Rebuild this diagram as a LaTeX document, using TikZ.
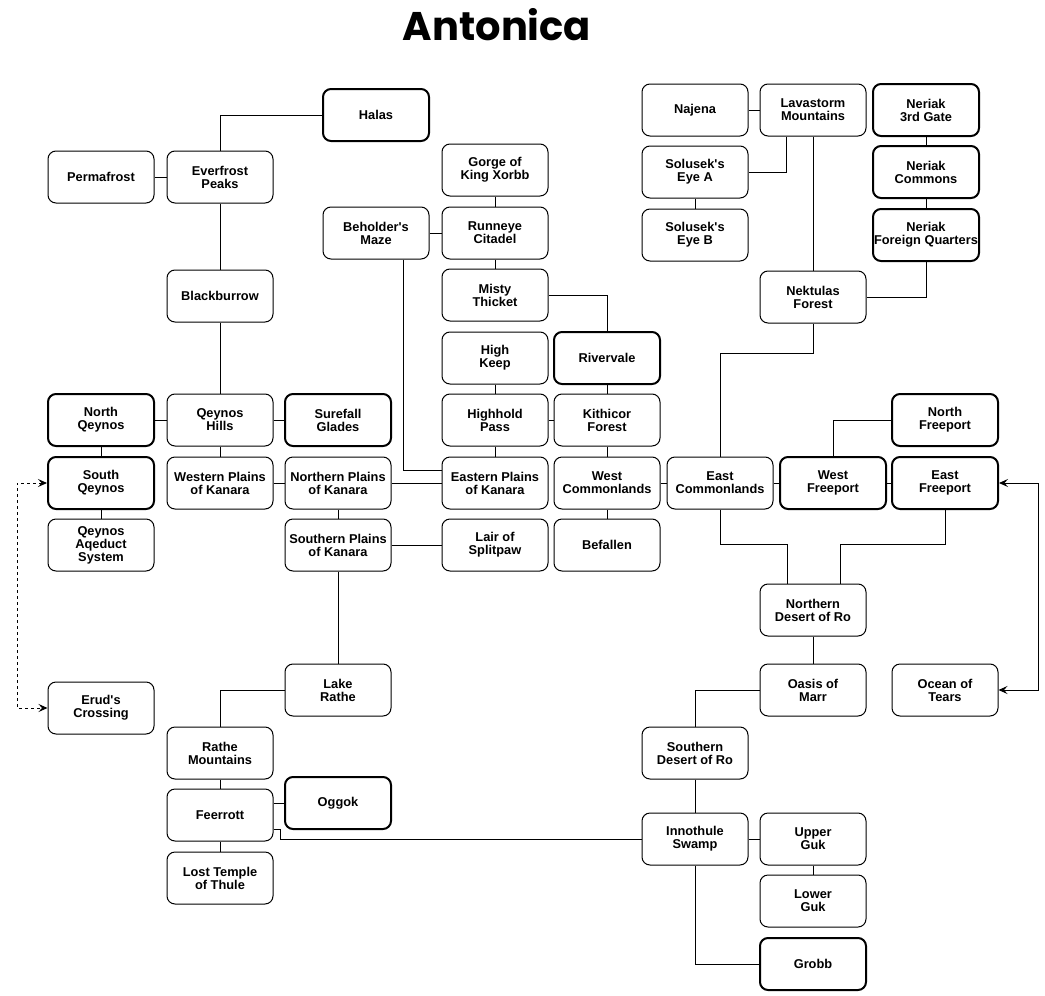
\documentclass[tikz,border=0pt]{standalone}
\usepackage{fontspec}
\setmainfont{Liberation Sans}
\newfontfamily\titlefont{Poppins}
\usetikzlibrary{calc,arrows.meta}
\begin{document}
\begin{tikzpicture}[x=1pt,y=-1pt,
  box/.style={draw,rounded corners=8pt,line width=1pt,minimum width=106pt,minimum height=52pt,
    inner sep=0pt,align=center,font=\fontsize{12.8}{13}\selectfont\bfseries},
  city/.style={box,line width=2pt},
  conn/.style={line width=1pt},
  arrtip/.tip={Stealth[length=9pt,width=8pt,inset=3.5pt]}]
\useasboundingbox (0,0) rectangle (1045,996);
\node[anchor=base,font=\titlefont\bfseries\fontsize{40}{40}\selectfont] (title) at (497,40) {Antonica};
% column A
\node[box]  (Permafrost) at (101,177) {Permafrost};
\node[city] (NQeynos) at (101,420) {North\\Qeynos};
\node[city] (SQeynos) at (101,483) {South\\Qeynos};
\node[box]  (Aqeduct) at (101,545) {Qeynos\\Aqeduct\\System};
\node[box]  (Erud) at (101,708) {Erud\textquotesingle s\\Crossing};
% column B
\node[box] (Everfrost) at (220,177) {Everfrost\\Peaks};
\node[box] (Blackburrow) at (220,296) {Blackburrow};
\node[box] (QHills) at (220,420) {Qeynos\\Hills};
\node[box] (WPlains) at (220,483) {Western Plains\\of Kanara};
\node[box] (RatheMtn) at (220,753) {Rathe\\Mountains};
\node[box] (Feerrott) at (220,815) {Feerrott};
\node[box] (LostTemple) at (220,878) {Lost Temple\\of Thule};
% column C
\node[city] (Halas) at (376,115) {Halas};
\node[box]  (Beholder) at (376,233) {Beholder\textquotesingle s\\Maze};
\node[city] (Surefall) at (338,420) {Surefall\\Glades};
\node[box]  (NPlains) at (338,483) {Northern Plains\\of Kanara};
\node[box]  (SPlains) at (338,545) {Southern Plains\\of Kanara};
\node[box]  (LakeRathe) at (338,690) {Lake\\Rathe};
\node[city] (Oggok) at (338,803) {Oggok};
% column D
\node[box] (Gorge) at (495,170) {Gorge of\\King Xorbb};
\node[box] (Runneye) at (495,233) {Runneye\\Citadel};
\node[box] (Misty) at (495,295) {Misty\\Thicket};
\node[box] (HighKeep) at (495,358) {High\\Keep};
\node[box] (Highhold) at (495,420) {Highhold\\Pass};
\node[box] (EPlains) at (495,483) {Eastern Plains\\of Kanara};
\node[box] (Lair) at (495,545) {Lair of\\Splitpaw};
% column E
\node[city] (Rivervale) at (607,358) {Rivervale};
\node[box]  (Kithicor) at (607,420) {Kithicor\\Forest};
\node[box]  (WCommon) at (607,483) {West\\Commonlands};
\node[box]  (Befallen) at (607,545) {Befallen};
% east
\node[box]  (ECommon) at (720,483) {East\\Commonlands};
\node[city] (WFreeport) at (833,483) {West\\Freeport};
\node[city] (NFreeport) at (945,420) {North\\Freeport};
\node[city] (EFreeport) at (945,483) {East\\Freeport};
\node[box]  (Ocean) at (945,690) {Ocean of\\Tears};
% upper right
\node[box]  (Najena) at (695,110) {Najena};
\node[box]  (Lavastorm) at (813,110) {Lavastorm\\Mountains};
\node[box]  (SolA) at (695,172) {Solusek\textquotesingle s\\Eye A};
\node[box]  (SolB) at (695,235) {Solusek\textquotesingle s\\Eye B};
\node[city] (Neriak3) at (926,110) {Neriak\\3rd Gate};
\node[city] (NeriakC) at (926,172) {Neriak\\Commons};
\node[city] (NeriakFQ) at (926,235) {Neriak\\Foreign Quarters};
\node[box]  (Nektulas) at (813,297) {Nektulas\\Forest};
% lower right
\node[box]  (NDesert) at (813,610) {Northern\\Desert of Ro};
\node[box]  (Oasis) at (813,690) {Oasis of\\Marr};
\node[box]  (SDesert) at (695,753) {Southern\\Desert of Ro};
\node[box]  (Innothule) at (695,839) {Innothule\\Swamp};
\node[box]  (UpperGuk) at (813,839) {Upper\\Guk};
\node[box]  (LowerGuk) at (813,901) {Lower\\Guk};
\node[city] (Grobb) at (813,964) {Grobb};
% connectors
\begin{scope}[conn]
\draw (Halas.west) -| (Everfrost.north);
\draw (Permafrost) -- (Everfrost);
\draw (Everfrost) -- (Blackburrow);
\draw (Blackburrow) -- (QHills);
\draw (NQeynos) -- (QHills);
\draw (QHills) -- (Surefall);
\draw (NQeynos) -- (SQeynos);
\draw (SQeynos) -- (Aqeduct);
\draw (QHills) -- (WPlains);
\draw (WPlains) -- (NPlains);
\draw (NPlains) -- (EPlains);
\draw (NPlains) -- (SPlains);
\draw (SPlains) -- (Lair);
\draw (SPlains) -- (LakeRathe);
\draw (LakeRathe.west) -| (RatheMtn.north);
\draw (RatheMtn) -- (Feerrott);
\draw (Feerrott) -- (LostTemple);
\draw (Oggok.west) -- (Oggok.west -| Feerrott.east);
\draw ($(Feerrott.east)+(0,14)$) -- ++(7,0) |- (Innothule.west);
\draw (Beholder) -- (Runneye);
\draw ($(Beholder.south)+(27,0)$) |- ($(EPlains.west)+(0,-13)$);
\draw (Gorge) -- (Runneye);
\draw (Runneye) -- (Misty);
\draw (Misty.east) -| (Rivervale.north);
\draw (HighKeep) -- (Highhold);
\draw (Highhold) -- (EPlains);
\draw (Highhold) -- (Kithicor);
\draw (Rivervale) -- (Kithicor);
\draw (Kithicor) -- (WCommon);
\draw (WCommon) -- (Befallen);
\draw (WCommon) -- (ECommon);
\draw (ECommon) -- (WFreeport);
\draw (WFreeport) -- (EFreeport);
\draw (NFreeport.west) -| (WFreeport.north);
\draw (ECommon.north) |- ($(Nektulas.south)+(0,30)$) -- (Nektulas.south);
\draw (ECommon.south) |- ($(NDesert.north)+(-26,-39)$) -- ($(NDesert.north)+(-26,0)$);
\draw (EFreeport.south) |- ($(NDesert.north)+(27,-39)$) -- ($(NDesert.north)+(27,0)$);
\draw (NDesert) -- (Oasis);
\draw (Oasis.west) -| (SDesert.north);
\draw (SDesert) -- (Innothule);
\draw (Innothule) -- (UpperGuk);
\draw (UpperGuk) -- (LowerGuk);
\draw (Innothule.south) |- (Grobb.west);
\draw (Najena) -- (Lavastorm);
\draw ($(Lavastorm.south)+(-27,0)$) |- (SolA.east);
\draw (Lavastorm) -- (Nektulas);
\draw (SolA) -- (SolB);
\draw (Neriak3) -- (NeriakC);
\draw (NeriakC) -- (NeriakFQ);
\draw (NeriakFQ.south) |- (Nektulas.east);
\draw[dashed,arrtip-arrtip] (SQeynos.west) -- ++(-30,0) |- (Erud.west);
\draw[arrtip-arrtip] (EFreeport.east) -- ++(39,0) |- (Ocean.east);
\end{scope}
\end{tikzpicture}
\end{document}
